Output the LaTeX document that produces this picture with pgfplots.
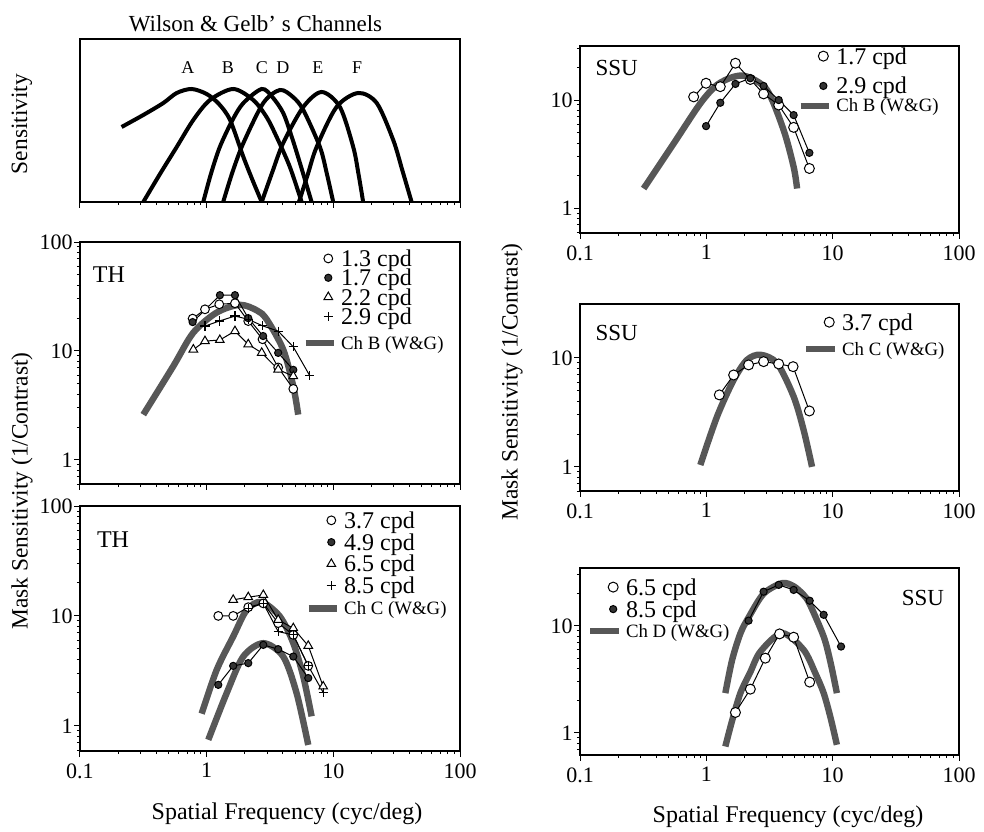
\documentclass[border=0pt]{standalone}
\usepackage{fontspec}
\setmainfont{Liberation Serif}
\usepackage{pgfplots}
\pgfplotsset{compat=1.18}
\newcommand\fs[1]{\fontsize{#1}{#1}\selectfont}
% legend texts with fixed height/depth (struts) so row pitch is predictable
\newcommand\lt[2][8.4pt]{\fs{12}\rule[-2.6pt]{0pt}{\dimexpr#1+2.6pt\relax}#2}
\newcommand\ch[2][6.6pt]{\fs{9.4}\rule[-2pt]{0pt}{\dimexpr#1+2pt\relax}#2}
\definecolor{wg}{gray}{0.34}
\pgfplotsset{
  every axis/.append style={
    scale only axis, anchor=south west,
    xmin=0.1, xmax=100,
    axis line style={line width=0.6pt},
    tick style={black, line width=0.5pt},
    tick align=outside, tick pos=left,
    major tick length=3pt, minor tick length=1.6pt,
    log ticks with fixed point,
    tick label style={font=\fs{11}},
    xticklabel style={inner sep=1pt, yshift=-2pt},
    yticklabel style={inner sep=0.5pt},
    legend style={draw=none, fill=none, inner sep=0pt, cells={anchor=base west},
      row sep=0pt, column sep=1pt, nodes={inner xsep=1pt, inner ysep=0pt}},
    /pgf/number format/assume math mode=true,
  },
  chan/.style={wg, line width=3.2pt, smooth, no marks},
  dat/.style={black, line width=0.5pt, mark options={solid, line width=0.6pt}},
  ocirc/.style={dat, mark=*, mark size=2.2pt, mark options={fill=white}},
  fcirc/.style={dat, mark=*, mark size=1.8pt, mark options={fill=black!80}},
  otri/.style={dat, mark=triangle*, mark size=2.5pt, mark options={fill=white}},
  pls/.style={dat, mark=+, mark size=2.3pt},
  mleg/.style={legend image code/.code={\draw[##1] plot coordinates {(0.4cm,4pt)};}},
  lleg/.style={legend image code/.code={\draw[##1] (0cm,3.1pt) -- (0.5cm,3.1pt);}},
}
\begin{document}
\begin{tikzpicture}
\useasboundingbox (0,0) rectangle (492pt,415.5pt);

% ---------- Wilson & Gelb channels
\begin{semilogxaxis}[at={(40pt,314.5pt)}, width=190pt, height=81.5pt,
  ymin=0, ymax=163, ytick=\empty, xticklabel=\empty]
\addplot[black, line width=2pt, smooth] coordinates {(0.213,75) (0.316,87) (0.455,99) (0.58,109) (0.76,113) (1.0,108) (1.25,98) (1.53,82) (1.95,45) (2.3,22) (2.72,0)};
\addplot[black, line width=2pt, smooth] coordinates {(0.316,0) (0.428,28) (0.58,55) (0.784,82) (1.062,102) (1.62,113) (2.33,102) (2.97,85) (3.57,65) (4.54,35) (5.62,0)};
\addplot[black, line width=2pt, smooth] coordinates {(0.94,0) (1.08,28) (1.27,55) (1.6,82) (1.95,99) (2.72,113) (3.3,105) (4.02,89) (4.7,65) (5.45,39) (6.74,0)};
\addplot[black, line width=2pt, smooth] coordinates {(1.35,0) (1.6,30) (1.95,59) (2.8,99) (3.79,112) (4.8,105) (5.79,92) (7.84,55) (8.9,28) (9.98,0)};
\addplot[black, line width=2pt, smooth] coordinates {(2.72,0) (3.3,30) (4.02,59) (5.79,95) (8.09,110) (11.27,95) (14.36,55) (15.8,28) (17.2,0)};
\addplot[black, line width=2pt, smooth] coordinates {(5.35,0) (6.3,28) (7.38,55) (10.6,95) (15.7,109) (22,99) (29.7,62) (35,32) (41.5,0)};
\node[font=\fs{9}] at (axis cs:0.711,134) {A};
\node[font=\fs{9}] at (axis cs:1.47,134) {B};
\node[font=\fs{9}] at (axis cs:2.73,134) {C};
\node[font=\fs{9}] at (axis cs:4.0,134) {D};
\node[font=\fs{9}] at (axis cs:7.56,134) {E};
\node[font=\fs{9}] at (axis cs:15.4,134) {F};
\end{semilogxaxis}

% ---------- TH, channel B
\begin{loglogaxis}[at={(40pt,173.5pt)}, width=190pt, height=121pt,
  ymin=0.6, ymax=100, xticklabel=\empty,
  legend style={at={(rel axis cs:0.963,0.970)}, anchor=north east, row sep=-0.25pt}]
\addplot[chan, forget plot] coordinates {(0.316,2.6) (0.545,7.24) (0.784,14.7) (1.2,22.5) (1.83,26.5) (2.5,23.5) (2.976,19.5) (4.02,10.3) (4.83,4.74) (5.28,2.6)};
\addplot[ocirc, forget plot] coordinates {(0.775,19.8) (0.97,24.1) (1.257,26.8) (1.673,27.4) (2.13,18.8) (2.76,12.8) (3.67,7.05) (4.83,4.48)};
\addplot[fcirc, forget plot] coordinates {(0.775,18.4) (1.273,32.5) (1.673,32.5) (2.13,20) (2.79,13.7) (3.67,9.6) (4.83,6.7)};
\addplot[otri, forget plot] coordinates {(0.785,10.3) (0.97,12.3) (1.27,12.6) (1.673,15.2) (2.13,11.5) (2.72,9.6) (3.67,6.75) (4.83,5.86)};
\addplot[pls, forget plot] coordinates {(0.97,16.9) (1.257,18.8) (1.673,20.9) (2.13,19.5) (2.76,17) (3.67,15.2) (4.83,10.9) (6.5,5.95)};
\addlegendimage{ocirc, mleg}\addlegendentry{\lt{1.3 cpd}}
\addlegendimage{fcirc, mleg}\addlegendentry{\lt{1.7 cpd}}
\addlegendimage{otri, mleg}\addlegendentry{\lt{2.2 cpd}}
\addlegendimage{pls, mleg}\addlegendentry{\lt{2.9 cpd}}
\addlegendimage{wg, line width=3.2pt, lleg}\addlegendentry{\ch[11.25pt]{Ch B (W\&G)}}
\node[font=\fs{12}] at (rel axis cs:0.076,0.864) {TH};
\end{loglogaxis}

% ---------- TH, channel C
\begin{loglogaxis}[at={(40pt,40pt)}, width=190pt, height=122.5pt,
  ymin=0.59, ymax=100,
  legend style={at={(rel axis cs:0.971,0.979)}, anchor=north east, row sep=1pt}]
\addplot[chan, forget plot] coordinates {(0.913,1.29) (1.2,3.23) (1.62,6.5) (2.07,11.3) (2.7,13.4) (3.79,9.86) (4.83,5.65) (5.79,2.81) (6.74,1.22)};
\addplot[chan, forget plot] coordinates {(1.03,0.746) (1.438,1.98) (1.945,4.27) (2.8,5.65) (4.02,4.27) (5.13,1.98) (6.34,0.67)};
\addplot[ocirc, forget plot] coordinates {(1.235,10.0) (1.62,10.0) (2.13,12.0) (2.8,13.0) (3.67,8.6) (4.83,6.72) (6.34,3.51)};
\addplot[fcirc, forget plot] coordinates {(1.235,2.36) (1.62,3.51) (2.13,3.72) (2.8,5.45) (3.67,4.98) (4.83,4.27) (6.34,2.72)};
\addplot[otri, forget plot] coordinates {(1.62,14.0) (2.13,14.8) (2.8,15.5) (3.67,9.2) (4.83,7.73) (6.34,5.34) (8.32,2.28)};
\addplot[pls, forget plot] coordinates {(2.13,11.7) (2.8,13.0) (3.67,7.2) (4.83,6.72) (6.34,3.51) (8.32,2.01)};
\addlegendimage{ocirc, mleg}\addlegendentry{\lt{3.7 cpd}}
\addlegendimage{fcirc, mleg}\addlegendentry{\lt{4.9 cpd}}
\addlegendimage{otri, mleg}\addlegendentry{\lt{6.5 cpd}}
\addlegendimage{pls, mleg}\addlegendentry{\lt{8.5 cpd}}
\addlegendimage{wg, line width=3.2pt, lleg}\addlegendentry{\ch[8pt]{Ch C (W\&G)}}
\node[font=\fs{12}] at (rel axis cs:0.087,0.861) {TH};
\end{loglogaxis}

% ---------- SSU, channel B
\begin{loglogaxis}[at={(290pt,299pt)}, width=189.5pt, height=93.5pt,
  ymin=0.59, ymax=31.6,
  legend style={at={(rel axis cs:0.9525,0.995)}, anchor=north east, row sep=0.9pt}]
\addplot[chan, forget plot] coordinates {(0.319,1.52) (0.552,3.97) (0.896,9.3) (1.215,13.8) (1.645,16.4) (2.1,16.5) (3.02,12.4) (4.09,5.28) (4.91,2.41) (5.23,1.52)};
\addplot[ocirc, mark size=2.5pt, forget plot] coordinates {(0.794,10.7) (0.995,14.3) (1.29,13.3) (1.70,21.9) (2.23,15.5) (2.84,11.4) (3.74,9.0) (4.91,5.59) (6.54,2.33)};
\addplot[fcirc, forget plot] coordinates {(0.995,5.74) (1.29,9.44) (1.70,14.1) (2.23,15.9) (2.84,13.5) (3.74,10.0) (4.91,7.26) (6.54,3.25)};
\addlegendimage{ocirc, mark size=2.5pt, mleg}\addlegendentry{\lt{1.7 cpd}}
\addlegendimage{fcirc, mleg}\addlegendentry{\lt[12.5pt]{2.9 cpd}}
\addlegendimage{wg, line width=3.2pt, lleg}\addlegendentry{\ch{Ch B (W\&G)}}
\node[font=\fs{11.5}] at (rel axis cs:0.097,0.881) {SSU};
\end{loglogaxis}

% ---------- SSU, channel C
\begin{loglogaxis}[at={(290pt,170pt)}, width=189.5pt, height=93.5pt,
  ymin=0.6, ymax=31.3,
  legend style={at={(rel axis cs:0.968,0.952)}, anchor=north east, row sep=0.4pt}]
\addplot[chan, forget plot] coordinates {(0.896,1.04) (1.215,2.89) (1.645,6.28) (2.1,9.6) (2.68,10.7) (3.63,8.94) (4.91,4.42) (5.89,2.18) (6.87,1.0)};
\addplot[ocirc, mark size=2.5pt, forget plot] coordinates {(1.267,4.58) (1.645,6.98) (2.16,8.63) (2.84,9.25) (3.74,8.81) (4.86,8.32) (6.54,3.26)};
\addlegendimage{ocirc, mark size=2.5pt, mleg}\addlegendentry{\lt{3.7 cpd}}
\addlegendimage{wg, line width=3.2pt, lleg}\addlegendentry{\ch[10.7pt]{Ch C (W\&G)}}
\node[font=\fs{11.5}] at (rel axis cs:0.097,0.845) {SSU};
\end{loglogaxis}

% ---------- SSU, channel D
\begin{loglogaxis}[at={(290pt,38pt)}, width=189.5pt, height=93.5pt,
  ymin=0.62, ymax=34.8,
  legend style={at={(rel axis cs:0.018,0.947)}, anchor=north west, row sep=1.1pt}]
\addplot[chan, forget plot] coordinates {(1.414,2.35) (1.6,4.8) (1.86,8.5) (2.16,12) (2.84,20) (3.98,25.1) (4.91,23.5) (5.89,19.5) (6.58,16) (8.49,7.94) (9.6,4.6) (10.8,2.35)};
\addplot[chan, forget plot] coordinates {(1.414,0.745) (1.6,1.3) (1.86,2.35) (2.23,3.7) (2.68,5.75) (3.98,8.55) (5.89,5.97) (7.3,3.6) (8.49,2.35) (9.6,1.4) (10.8,0.773)};
\addplot[ocirc, mark size=2.5pt, forget plot] coordinates {(1.70,1.55) (2.23,2.56) (2.93,4.99) (3.80,8.42) (4.91,7.84) (6.58,2.98)};
\addplot[fcirc, forget plot] coordinates {(2.16,11.2) (2.84,20.9) (3.74,24.2) (4.91,21.7) (6.58,17.2) (8.49,12.7) (11.65,6.41)};
\addlegendimage{ocirc, mark size=2.5pt, mleg}\addlegendentry{\lt{6.5 cpd}}
\addlegendimage{fcirc, mleg}\addlegendentry{\lt{8.5 cpd}}
\addlegendimage{wg, line width=3.2pt, lleg}\addlegendentry{\ch[7.5pt]{Ch D (W\&G)}}
\node[font=\fs{11.5}] at (rel axis cs:0.905,0.84) {SSU};
\end{loglogaxis}

% ---------- shared titles and labels
\node[font=\fs{11.5}] at (127.75pt,403.5pt) {Wilson \& Gelb' s Channels};
\node[font=\fs{11.7}, rotate=90] at (11pt,353.5pt) {Sensitivity};
\node[font=\fs{11.7}, rotate=90] at (11pt,170pt) {Mask Sensitivity (1/Contrast)};
\node[font=\fs{11.7}, rotate=90] at (256pt,224.5pt) {Mask Sensitivity (1/Contrast)};
\node[font=\fs{12}] at (143.5pt,8.5pt) {Spatial Frequency (cyc/deg)};
\node[font=\fs{12}] at (394pt,7pt) {Spatial Frequency (cyc/deg)};
\end{tikzpicture}
\end{document}
